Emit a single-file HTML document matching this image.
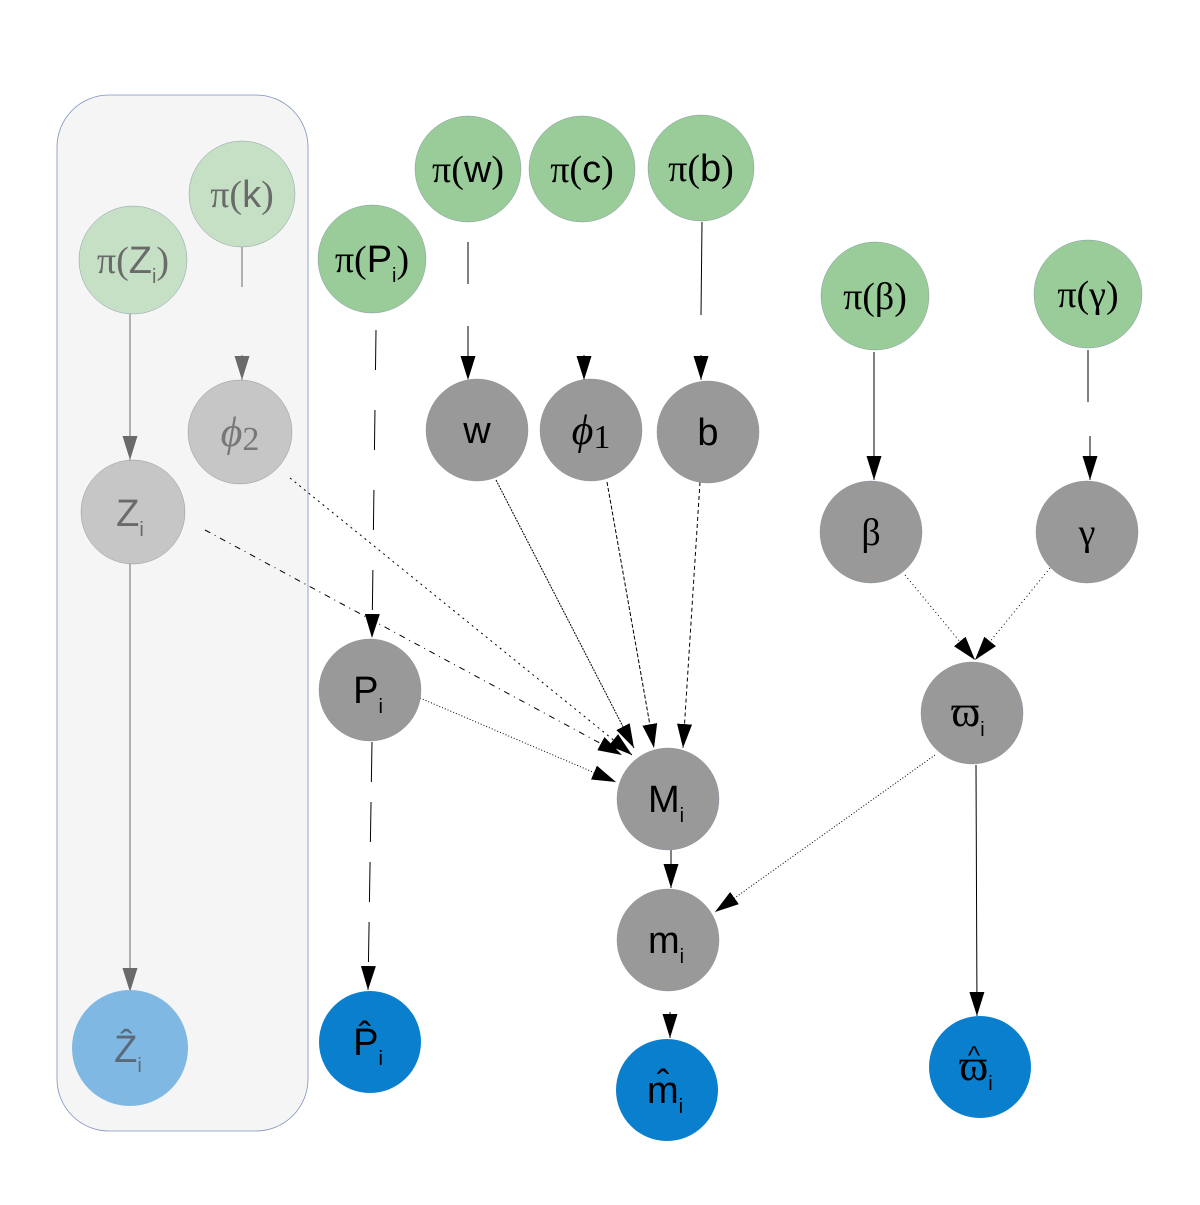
<!DOCTYPE html>
<html><head><style>
html,body{margin:0;padding:0;background:#fff;}
svg text{font-family:"Liberation Sans",sans-serif;}
.s{font-family:"Liberation Serif",serif !important;}
</style></head><body>
<svg width="1200" height="1200" viewBox="0 0 1200 1200" xmlns="http://www.w3.org/2000/svg">
<defs>
<marker id="a" viewBox="0 0 10 10" refX="10" refY="5" markerWidth="24" markerHeight="15" markerUnits="userSpaceOnUse" orient="auto" preserveAspectRatio="none"><path d="M0,0L10,5L0,10Z" fill="#000"/></marker>
<marker id="g" viewBox="0 0 10 10" refX="10" refY="5" markerWidth="24" markerHeight="15" markerUnits="userSpaceOnUse" orient="auto" preserveAspectRatio="none"><path d="M0,0L10,5L0,10Z" fill="#6a6a6a"/></marker>
</defs>
<rect x="57" y="95" width="251" height="1036" rx="52" fill="#f5f5f5" stroke="#7f90c0" stroke-width="0.8"/>

<g stroke-width="1" fill="none">
<line x1="130" y1="314" x2="130" y2="460" stroke="#6a6a6a" marker-end="url(#g)"/>
<line x1="242" y1="242" x2="242" y2="287" stroke="#6a6a6a"/>
<line x1="242" y1="355" x2="242" y2="380" stroke="#6a6a6a" marker-end="url(#g)"/>
<line x1="130" y1="564" x2="130" y2="992" stroke="#6a6a6a" marker-end="url(#g)"/>
<line x1="376" y1="330" x2="372" y2="638" stroke="#000" stroke-dasharray="40,40" marker-end="url(#a)"/>
<line x1="468" y1="242" x2="468" y2="380" stroke="#000" stroke-dasharray="42,42" marker-end="url(#a)"/>
<line x1="584" y1="355" x2="584" y2="380" stroke="#000" marker-end="url(#a)"/>
<line x1="702" y1="222" x2="701" y2="315" stroke="#000"/>
<line x1="701" y1="355" x2="701" y2="380" stroke="#000" marker-end="url(#a)"/>
<line x1="874" y1="352" x2="874" y2="480" stroke="#000" marker-end="url(#a)"/>
<line x1="1088" y1="350" x2="1088" y2="402" stroke="#000"/>
<line x1="1090" y1="436" x2="1090" y2="480" stroke="#000" marker-end="url(#a)"/>
<line x1="290" y1="478" x2="632" y2="755" stroke="#000" stroke-dasharray="2,4" marker-end="url(#a)"/>
<line x1="205" y1="530" x2="622" y2="755" stroke="#000" stroke-dasharray="6,5,1,5" marker-end="url(#a)"/>
<line x1="420" y1="698" x2="616" y2="782" stroke="#000" stroke-dasharray="1,2" marker-end="url(#a)"/>
<line x1="496" y1="480" x2="634" y2="748" stroke="#000" stroke-dasharray="2,1" marker-end="url(#a)"/>
<line x1="607" y1="482" x2="654" y2="748" stroke="#000" stroke-dasharray="4,2" marker-end="url(#a)"/>
<line x1="700" y1="482" x2="683" y2="748" stroke="#000" stroke-dasharray="4,3" marker-end="url(#a)"/>
<line x1="905" y1="575" x2="975" y2="660" stroke="#000" stroke-dasharray="1,3" marker-end="url(#a)"/>
<line x1="1050" y1="568" x2="975" y2="660" stroke="#000" stroke-dasharray="1,3" marker-end="url(#a)"/>
<line x1="671" y1="850" x2="671" y2="888" stroke="#000" marker-end="url(#a)"/>
<line x1="935" y1="755" x2="715" y2="912" stroke="#000" stroke-dasharray="1,2" marker-end="url(#a)"/>
<line x1="372" y1="742" x2="368" y2="990" stroke="#000" stroke-dasharray="40,20" marker-end="url(#a)"/>
<line x1="670" y1="1012" x2="670" y2="1038" stroke="#000" marker-end="url(#a)"/>
<line x1="976" y1="765" x2="977" y2="1016" stroke="#000" marker-end="url(#a)"/>
</g>

<g stroke="#7a8a9a" stroke-width="0.4">
<circle cx="242" cy="194" r="53" fill="#c5e0c5"/>
<circle cx="133" cy="260" r="54" fill="#c5e0c5"/>
<circle cx="240" cy="432" r="52" fill="#c6c6c6"/>
<circle cx="133" cy="512" r="52" fill="#c6c6c6"/>
<circle cx="130" cy="1048" r="58" fill="#7fb9e3" stroke="none"/>
<circle cx="372" cy="259" r="54" fill="#99cc99"/>
<circle cx="468" cy="169" r="53" fill="#99cc99"/>
<circle cx="582" cy="169" r="53" fill="#99cc99"/>
<circle cx="701" cy="168" r="53" fill="#99cc99"/>
<circle cx="875" cy="296" r="54" fill="#99cc99"/>
<circle cx="1088" cy="294" r="54" fill="#99cc99"/>
<circle cx="477" cy="430" r="51" fill="#999"/>
<circle cx="591" cy="430" r="51" fill="#999"/>
<circle cx="708" cy="432" r="51" fill="#999"/>
<circle cx="871" cy="532" r="51" fill="#999"/>
<circle cx="1087" cy="532" r="51" fill="#999"/>
<circle cx="370" cy="690" r="51" fill="#999"/>
<circle cx="972" cy="713" r="51" fill="#999"/>
<circle cx="668" cy="799" r="51" fill="#999"/>
<circle cx="668" cy="940" r="51" fill="#999"/>
<circle cx="370" cy="1042" r="51" fill="#0a7fce" stroke="none"/>
<circle cx="667" cy="1090" r="51" fill="#0a7fce" stroke="none"/>
<circle cx="980" cy="1067" r="51" fill="#0a7fce" stroke="none"/>
</g>

<g font-size="38" text-anchor="middle">
<text x="242" y="207" fill="#6a6a6a"><tspan class="s">π(</tspan>k<tspan class="s">)</tspan></text>
<text x="133" y="273" fill="#6a6a6a"><tspan class="s">π(</tspan>Z<tspan font-size="20" dy="10">i</tspan><tspan class="s" dy="-10">)</tspan></text>
<text x="240" y="446" fill="#777" class="s" font-style="italic" font-size="42">ϕ<tspan font-style="normal" font-size="34" dy="4">2</tspan></text>
<text x="130" y="526" fill="#6a6a6a">Z<tspan font-size="20" dy="10">i</tspan></text>
<text x="128" y="1062" fill="#5a6a7a">Ẑ<tspan font-size="20" dy="10">i</tspan></text>
<text x="372" y="272" fill="#000"><tspan class="s">π(</tspan>P<tspan font-size="20" dy="10">i</tspan><tspan class="s" dy="-10">)</tspan></text>
<text x="468" y="182" fill="#000"><tspan class="s">π(</tspan>w<tspan class="s">)</tspan></text>
<text x="582" y="182" fill="#000"><tspan class="s">π(</tspan>c<tspan class="s">)</tspan></text>
<text x="701" y="181" fill="#000"><tspan class="s">π(</tspan>b<tspan class="s">)</tspan></text>
<text x="875" y="309" fill="#000" class="s">π(β)</text>
<text x="1088" y="307" fill="#000" class="s">π(γ)</text>
<text x="477" y="443" fill="#000">w</text>
<text x="591" y="444" fill="#000" class="s" font-style="italic" font-size="42">ϕ<tspan font-style="normal" font-size="34" dy="4">1</tspan></text>
<text x="708" y="445" fill="#000">b</text>
<text x="871" y="545" fill="#000" class="s">β</text>
<text x="1087" y="545" fill="#000" class="s">γ</text>
<text x="368" y="703" fill="#000">P<tspan font-size="20" dy="10">i</tspan></text>
<text x="968" y="726" fill="#000" class="s" font-size="44">ϖ<tspan font-size="20" dy="10" font-family="Liberation Sans">i</tspan></text>
<text x="666" y="812" fill="#000">M<tspan font-size="20" dy="10">i</tspan></text>
<text x="666" y="953" fill="#000">m<tspan font-size="20" dy="10">i</tspan></text>
<text x="368" y="1055" fill="#000">P̂<tspan font-size="20" dy="10">i</tspan></text>
<text x="665" y="1103" fill="#000">m̂<tspan font-size="20" dy="10">i</tspan></text>
<text x="976" y="1080" fill="#000" class="s" font-size="44">ϖ<tspan font-size="20" dy="10" font-family="Liberation Sans">i</tspan></text>
<text x="974" y="1064" fill="#000" font-size="26">^</text>
</g>
</svg>
</body></html>
